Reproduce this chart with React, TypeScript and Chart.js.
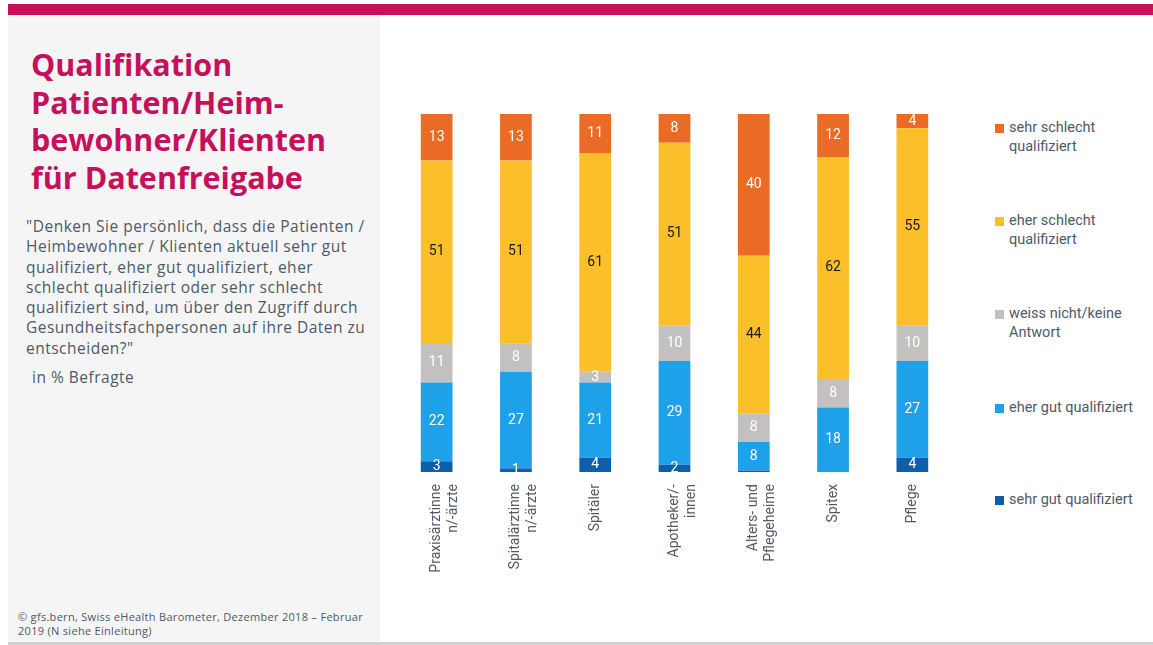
import React, { useEffect, useRef } from "react";
import { Chart, registerables } from "chart.js";

Chart.register(...registerables);

const categories: string[][] = [
  ["Praxisärztinne", "n/-ärzte"],
  ["Spitalärztinne", "n/-ärzte"],
  ["Spitäler"],
  ["Apotheker/-", "innen"],
  ["Alters- und", "Pflegeheime"],
  ["Spitex"],
  ["Pflege"],
];

const sehrGut = [3, 1, 4, 2, 0.4, 0, 4];
const eherGut = [22, 27, 21, 29, 8, 18, 27];
const weissNicht = [11, 8, 3, 10, 8, 8, 10];
const eherSchlecht = [51, 51, 61, 51, 44, 62, 55];
const sehrSchlecht = [13, 13, 11, 8, 40, 12, 4];

const seriesNames = [
  "sehr gut qualifiziert",
  "eher gut qualifiziert",
  "weiss nicht/keine Antwort",
  "eher schlecht qualifiziert",
  "sehr schlecht qualifiziert",
];
const legendLines: string[][] = [
  ["sehr schlecht", "qualifiziert"],
  ["eher schlecht", "qualifiziert"],
  ["weiss nicht/keine", "Antwort"],
  ["eher gut qualifiziert"],
  ["sehr gut qualifiziert"],
];
const colors = ["#0E5EAB", "#1FA1E9", "#C2C1BF", "#FBBF29", "#E96B25"];
const labelColors = ["#ffffff", "#ffffff", "#ffffff", "#1a1a1a", "#ffffff"];

const FONT = "Roboto, 'Noto Sans', sans-serif";
const PANEL_FONT = "'Open Sans', Roboto, sans-serif";

const valueLabels = {
  id: "valueLabels",
  afterDatasetsDraw(chart: any) {
    const ctx = chart.ctx;
    ctx.save();
    ctx.font = `14px ${FONT}`;
    ctx.textAlign = "center";
    ctx.textBaseline = "middle";
    chart.data.datasets.forEach((ds: any, di: number) => {
      const meta = chart.getDatasetMeta(di);
      meta.data.forEach((el: any, i: number) => {
        const v = ds.data[i];
        if (v < 1) return;
        ctx.fillStyle = labelColors[di];
        ctx.fillText(String(v), el.x, (el.y + el.base) / 2);
      });
    });
    ctx.restore();
  },
};

export default function App() {
  const ref = useRef<HTMLCanvasElement>(null);

  useEffect(() => {
    const data = [sehrGut, eherGut, weissNicht, eherSchlecht, sehrSchlecht];
    const chart = new Chart(ref.current!, {
      type: "bar",
      data: {
        labels: categories,
        datasets: data.map((d, i) => ({
          label: seriesNames[i],
          data: d,
          backgroundColor: colors[i],
          borderWidth: 0,
          barPercentage: 0.4,
          categoryPercentage: 1,
        })),
      },
      options: {
        animation: false,
        responsive: false,
        maintainAspectRatio: false,
        layout: { padding: { top: 14, left: 7, right: 18, bottom: 0 } },
        plugins: { legend: { display: false }, tooltip: { enabled: false } },
        scales: {
          x: {
            stacked: true,
            grid: { display: false },
            border: { display: false },
            afterFit: (scale: any) => {
              scale.height = 128;
            },
            ticks: {
              minRotation: 90,
              maxRotation: 90,
              padding: 4,
              color: "#4f5b67",
              font: { family: FONT, size: 14 },
              autoSkip: false,
            },
          },
          y: {
            stacked: true,
            display: false,
            min: 0,
            max: 100,
          },
        },
      },
      plugins: [valueLabels],
    });
    return () => chart.destroy();
  }, []);

  const textColor = "#4d5a67";
  const legendTops = [118, 211, 304, 398, 490];

  return (
    <div
      style={{
        position: "absolute",
        left: 0,
        top: 0,
        width: 1153,
        height: 645,
        background: "#ffffff",
        fontFamily: FONT,
        overflow: "hidden",
      }}
    >
      <div style={{ position: "absolute", left: 8, top: 4, width: 1145, height: 11, background: "#C5115B" }} />
      <div style={{ position: "absolute", left: 8, top: 15, width: 372, height: 626, background: "#F5F5F5" }} />
      <div style={{ position: "absolute", left: 8, top: 642, width: 1145, height: 3, background: "#D0D0D0" }} />
      <div
        style={{
          position: "absolute",
          left: 31,
          top: 46,
          color: "#C5115B",
          fontFamily: PANEL_FONT,
          fontWeight: 700,
          fontSize: 30.5,
          lineHeight: "37.5px",
          whiteSpace: "nowrap",
        }}
      >
        Qualifikation
        <br />
        Patienten/Heim-
        <br />
        bewohner/Klienten
        <br />
        für Datenfreigabe
      </div>
      <div
        style={{
          position: "absolute",
          left: 26,
          top: 216,
          color: textColor,
          fontFamily: PANEL_FONT,
          fontSize: 15.5,
          letterSpacing: "0.5px",
          lineHeight: "20.3px",
          whiteSpace: "nowrap",
        }}
      >
        "Denken Sie persönlich, dass die Patienten /
        <br />
        Heimbewohner / Klienten aktuell sehr gut
        <br />
        qualifiziert, eher gut qualifiziert, eher
        <br />
        schlecht qualifiziert oder sehr schlecht
        <br />
        qualifiziert sind, um über den Zugriff durch
        <br />
        Gesundheitsfachpersonen auf ihre Daten zu
        <br />
        entscheiden?"
      </div>
      <div
        style={{
          position: "absolute",
          left: 32,
          top: 366,
          color: textColor,
          fontFamily: PANEL_FONT,
          fontSize: 15.5,
          letterSpacing: "0.5px",
          whiteSpace: "nowrap",
        }}
      >
        in % Befragte
      </div>
      <div
        style={{
          position: "absolute",
          left: 18,
          top: 610,
          color: textColor,
          fontFamily: PANEL_FONT,
          fontSize: 11,
          letterSpacing: "0.3px",
          lineHeight: "14px",
          whiteSpace: "nowrap",
        }}
      >
        © gfs.bern, Swiss eHealth Barometer, Dezember 2018 – Februar
        <br />
        2019 (N siehe Einleitung)
      </div>
      <canvas
        ref={ref}
        width={580}
        height={500}
        style={{ position: "absolute", left: 390, top: 100, width: 580, height: 500 }}
      />
      {legendLines.map((lines, i) => (
        <div key={i} style={{ position: "absolute", left: 995, top: legendTops[i] }}>
          <div style={{ position: "absolute", left: 0, top: 6, width: 9, height: 9, background: colors[4 - i] }} />
          <div style={{ position: "absolute", left: 14, top: 0, color: textColor, fontSize: 14.5, lineHeight: "19px", whiteSpace: "nowrap" }}>
            {lines.map((l, j) => (
              <div key={j}>{l}</div>
            ))}
          </div>
        </div>
      ))}
    </div>
  );
}
